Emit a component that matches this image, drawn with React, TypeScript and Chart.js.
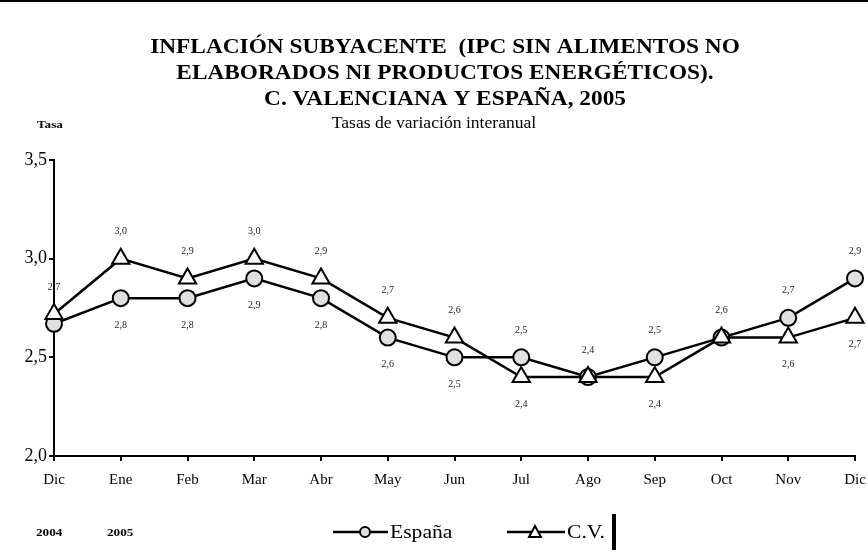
import React, { useEffect, useRef } from "react";
import { Chart, registerables } from "chart.js";

Chart.register(...registerables);

const months = ["Dic", "Ene", "Feb", "Mar", "Abr", "May", "Jun", "Jul", "Ago", "Sep", "Oct", "Nov", "Dic"];
const espana = [2.67, 2.8, 2.8, 2.9, 2.8, 2.6, 2.5, 2.5, 2.4, 2.5, 2.6, 2.7, 2.9];
const cv = [2.72, 3.0, 2.9, 3.0, 2.9, 2.7, 2.6, 2.4, 2.4, 2.4, 2.6, 2.6, 2.7];
const yTicks = [2.0, 2.5, 3.0, 3.5];
const titleLines = [
  "INFLACIÓN SUBYACENTE  (IPC SIN ALIMENTOS NO",
  "ELABORADOS NI PRODUCTOS ENERGÉTICOS).",
  "C. VALENCIANA Y ESPAÑA, 2005",
];
const subtitle = "Tasas de variación interanual";
const yAxisTitle = "Tasa";
const yearLabels = ["2004", "2005"];
const seriesNames = ["España", "C.V."];

const SERIF = "'Liberation Serif', 'Times New Roman', serif";
const fmt = (v: number) => v.toFixed(1).replace(".", ",");

function stretchText(ctx: CanvasRenderingContext2D, text: string, x: number, y: number, sx: number, align: CanvasTextAlign) {
  ctx.save();
  ctx.translate(x, y);
  ctx.scale(sx, 1);
  ctx.textAlign = align;
  ctx.fillText(text, 0, 0);
  ctx.restore();
}

const decorPlugin = {
  id: "decor",
  afterDatasetsDraw(chart: any) {
    const ctx: CanvasRenderingContext2D = chart.ctx;
    ctx.save();
    // top border
    ctx.fillStyle = "#000";
    ctx.fillRect(0, 0, 868, 2);
    ctx.textBaseline = "middle";
    // title
    ctx.font = `bold 22px ${SERIF}`;
    const ty = [47, 73, 99];
    titleLines.forEach((l, i) => stretchText(ctx, l, 445, ty[i], 1.06, "center"));
    ctx.font = `16px ${SERIF}`;
    stretchText(ctx, subtitle, 434, 124, 1.1, "center");
    ctx.font = `bold 11px ${SERIF}`;
    stretchText(ctx, yAxisTitle, 37, 125, 1.2, "left");
    stretchText(ctx, yearLabels[0], 36, 533, 1.2, "left");
    stretchText(ctx, yearLabels[1], 107, 533, 1.2, "left");

    // legend
    ctx.strokeStyle = "#000";
    ctx.lineWidth = 2.5;
    ctx.beginPath();
    ctx.moveTo(333, 532); ctx.lineTo(388, 532);
    ctx.moveTo(507, 532); ctx.lineTo(565, 532);
    ctx.stroke();
    ctx.lineWidth = 2;
    ctx.fillStyle = "#e0e0e0";
    ctx.beginPath();
    ctx.arc(365, 532, 5, 0, Math.PI * 2);
    ctx.fill(); ctx.stroke();
    ctx.fillStyle = "#fff";
    ctx.beginPath();
    ctx.moveTo(535, 526); ctx.lineTo(541, 537); ctx.lineTo(529, 537); ctx.closePath();
    ctx.fill(); ctx.stroke();
    ctx.fillStyle = "#000";
    ctx.font = `18px ${SERIF}`;
    stretchText(ctx, seriesNames[0], 390, 533, 1.2, "left");
    stretchText(ctx, seriesNames[1], 567, 533, 1.2, "left");
    ctx.fillRect(612, 514, 4, 36);

    // data labels
    const mE = chart.getDatasetMeta(0).data;
    const mC = chart.getDatasetMeta(1).data;
    ctx.font = `10px ${SERIF}`;
    ctx.fillStyle = "#222";
    ctx.textAlign = "center";
    const off = 27;
    for (let i = 0; i < months.length; i++) {
      const le = fmt(espana[i]);
      const lc = fmt(cv[i]);
      const pe = mE[i];
      const pc = mC[i];
      if (le === lc) {
        const top = Math.min(pe.y, pc.y);
        ctx.fillText(lc, pc.x, top - off);
      } else if (cv[i] > espana[i]) {
        ctx.fillText(lc, pc.x, pc.y - off);
        ctx.fillText(le, pe.x, pe.y + off);
      } else {
        ctx.fillText(le, pe.x, pe.y - off);
        ctx.fillText(lc, pc.x, pc.y + off);
      }
    }
    ctx.restore();
  },
};

export default function App() {
  const ref = useRef<HTMLCanvasElement>(null);
  useEffect(() => {
    const chart = new Chart(ref.current!, {
      type: "line",
      data: {
        labels: months,
        datasets: [
          {
            label: seriesNames[0],
            data: espana,
            borderColor: "#000",
            borderWidth: 2.5,
            pointStyle: "circle",
            pointRadius: 8,
            pointBorderWidth: 2,
            pointBackgroundColor: "#e0e0e0",
            pointBorderColor: "#000",
            order: 2,
          },
          {
            label: seriesNames[1],
            data: cv,
            borderColor: "#000",
            borderWidth: 2.5,
            pointStyle: "triangle",
            pointRadius: 10,
            pointBorderWidth: 2,
            pointBackgroundColor: "#fff",
            pointBorderColor: "#000",
            order: 1,
          },
        ],
      },
      options: {
        animation: false,
        responsive: false,
        layout: { padding: { top: 160, left: 0, right: 13, bottom: 0 } },
        plugins: { legend: { display: false }, tooltip: { enabled: false }, title: { display: false } },
        scales: {
          x: {
            offset: false,
            grid: { drawOnChartArea: false, drawTicks: true, tickLength: 5, color: "#000", lineWidth: 2 },
            border: { display: true, color: "#000", width: 2 },
            ticks: { color: "#000", font: { family: SERIF, size: 15 }, padding: 10, maxRotation: 0, autoSkip: false },
            afterFit: (s: any) => { s.height = 96; s.paddingLeft = 0; s.paddingRight = 0; },
          },
          y: {
            min: 2,
            max: 3.5,
            afterBuildTicks: (s: any) => { s.ticks = yTicks.map((v) => ({ value: v })); },
            grid: { drawOnChartArea: false, drawTicks: true, tickLength: 5, color: "#000", lineWidth: 2 },
            border: { display: true, color: "#000", width: 2 },
            ticks: { color: "#000", font: { family: SERIF, size: 18 }, padding: 2, callback: (v: any) => fmt(Number(v)) },
            afterFit: (s: any) => { s.width = 54; s.paddingTop = 0; s.paddingBottom = 0; },
          },
        },
      },
      plugins: [decorPlugin],
    });
    return () => chart.destroy();
  }, []);
  return (
    <div style={{ position: "fixed", left: 0, top: 0, width: 868, height: 552, background: "#fff" }}>
      <canvas ref={ref} width={868} height={552} style={{ width: 868, height: 552 }} />
    </div>
  );
}
